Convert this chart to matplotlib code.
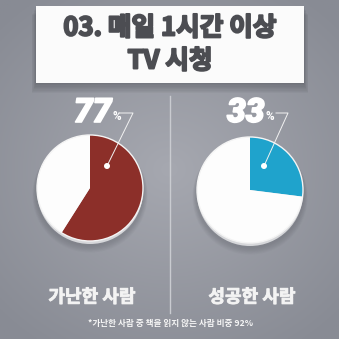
import numpy as np
import matplotlib.pyplot as plt
import matplotlib.patheffects as pe
from matplotlib.patches import Rectangle, Circle

plt.rcParams['font.family'] = ['Noto Sans CJK KR', 'DejaVu Sans']

# data
title_lines = ['03. 매일 1시간 이상', 'TV 시청']
groups = ['가난한 사람', '성공한 사람']
pct_labels = [77, 33]          # printed percentages
drawn_share = [59, 27]         # wedge share as actually drawn in the picture
wedge_colors = ['#8c2f29', '#1fa3cc']
footnote = '*가난한 사람 중 책을 읽지 않는 사람 비중 92%'

H = 339


def Y(y):
    return H - y


def heavy(color, w):
    return [pe.withStroke(linewidth=w, foreground=color)]


fig = plt.figure(figsize=(3.39, 3.39), dpi=100)
ax = fig.add_axes([0, 0, 1, 1])

# background gradient, lighter toward the middle
gx, gy = np.meshgrid(np.linspace(-1, 1, 200), np.linspace(-1, 1, 200))
rr = np.sqrt(gx ** 2 + (gy * 1.1) ** 2)
c0 = np.array([0xa6, 0xa8, 0xb0]) / 255
c1 = np.array([0x88, 0x8b, 0x94]) / 255
t = np.clip(rr / 1.4, 0, 1)[..., None]
bg = c0 * (1 - t) + c1 * t
ax.imshow(bg, extent=(0, H, 0, H), zorder=0, aspect='auto')

# title box with soft shadow
for i in range(8):
    ax.add_patch(Rectangle((36 - i * 0.6, Y(84 + i * 1.3)), 268 + i * 1.2, 78,
                           facecolor='#3a3c42', alpha=0.05, lw=0, zorder=1))
ax.add_patch(Rectangle((36, Y(83)), 268, 77, facecolor='#fbfbfb', lw=0, zorder=2))
for j, line in enumerate(title_lines):
    ax.text(170, Y(28 + 33 * j), line, ha='center', va='center', fontsize=18.5,
            fontweight='bold', color='#4c4d52', zorder=3,
            path_effects=heavy('#4c4d52', 1.4))

# divider
ax.plot([170, 170], [Y(96), Y(313)], color='#c9cbd0', lw=1, zorder=1)

centers = [(90, 188), (250, 190)]
label_pos = [(74, 113), (227, 113)]
dots = [(107, 166), (264, 166)]
elbows = [(133, 113), (288, 113)]
ends = [(119, 113), (276, 113)]
r = 53

for k in range(2):
    cx, cy = centers[k]
    # shadow and rim
    for i in range(6):
        ax.add_patch(Circle((cx, Y(cy + 4 + i * 0.6)), r + 1.5 + i * 0.6,
                            facecolor='#50535a', alpha=0.05, lw=0, zorder=2))
    ax.add_patch(Circle((cx, Y(cy + 3)), r, facecolor='#d6d7da', lw=0, zorder=3))
    share = drawn_share[k]
    ax.pie([share, 100 - share], colors=[wedge_colors[k], '#fdfdfd'],
           startangle=90, counterclock=False, center=(cx, Y(cy)), radius=r,
           frame=True, wedgeprops=dict(linewidth=0, zorder=4))
    ax.add_patch(Circle((cx, Y(cy)), r, facecolor='none', edgecolor='#f4f4f4',
                        lw=1.0, zorder=5))

    # leader line and dot
    dx, dy = dots[k]
    ex, ey = elbows[k]
    fx, fy = ends[k]
    ax.plot([dx, ex, fx], [Y(dy), Y(ey), Y(fy)], color='#f2f2f2', lw=0.7, zorder=6)
    ax.add_patch(Circle((dx, Y(dy)), 3, facecolor='#ffffff', edgecolor='none', zorder=7))

    # percentage label
    lx, ly = label_pos[k]
    num = ax.text(lx, Y(ly), str(pct_labels[k]), ha='left', va='center',
                  fontsize=24, fontweight='black', style='italic',
                  family='Roboto', color='white', zorder=6,
                  path_effects=heavy('white', 1.2))
    ax.annotate('%', xycoords=num, xy=(1, 0.2), xytext=(1, 0), textcoords='offset points',
                ha='left', va='bottom', fontsize=8.5, fontweight='bold',
                family='Roboto', color='white', zorder=6)

    # group label
    ax.text(cx + 2, Y(297), groups[k], ha='center', va='center', fontsize=13,
            fontweight='bold', color='#f3f3f3', zorder=6,
            path_effects=heavy('#f3f3f3', 0.6))

ax.text(170, Y(323), footnote, ha='center', va='center', fontsize=6.2,
        fontweight='bold', color='#f5f5f5', zorder=6)

ax.set_xlim(0, H)
ax.set_ylim(0, H)
ax.set_aspect('auto')
ax.axis('off')

plt.savefig('out.png', dpi=100)
plt.close()
